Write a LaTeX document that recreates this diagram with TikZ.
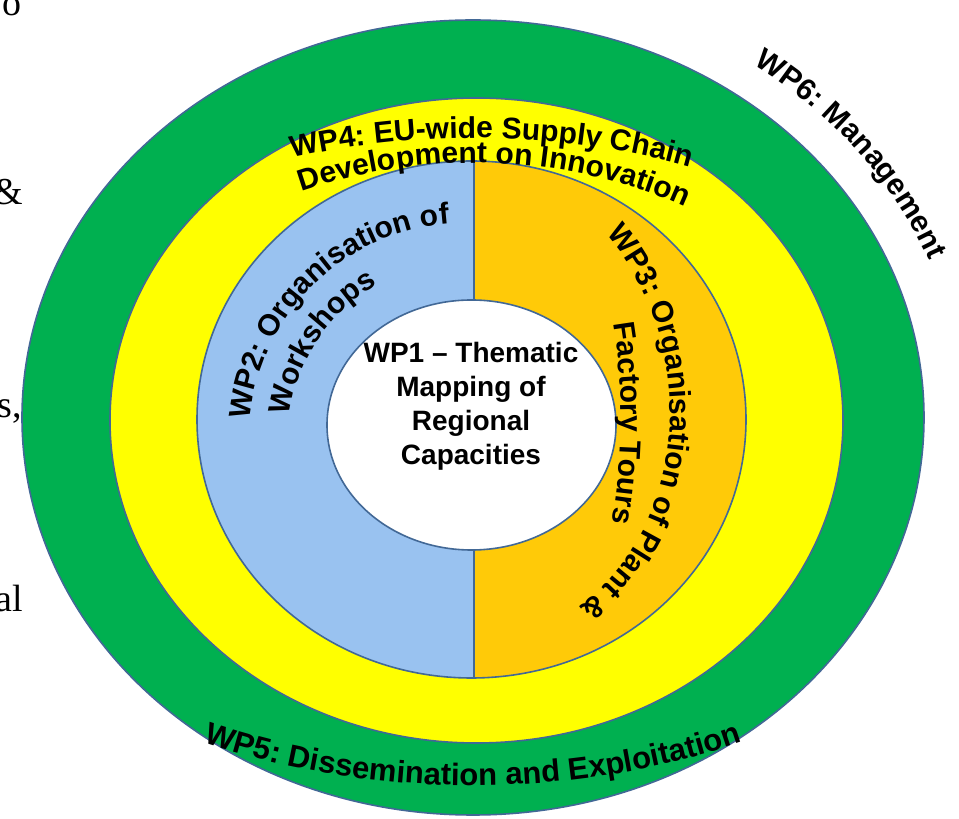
\documentclass[tikz,border=0pt]{standalone}
\usepackage{fontspec}
\setmainfont{Liberation Serif}
\newfontfamily\wparial{Liberation Sans}
\usepackage{tikz}
\usetikzlibrary{decorations.text}

\definecolor{ringgreen}{RGB}{0,176,80}
\definecolor{ringyellow}{RGB}{255,255,0}
\definecolor{ringblue}{RGB}{153,194,240}
\definecolor{ringgold}{RGB}{255,202,8}
\definecolor{rimline}{RGB}{66,104,150}

\begin{document}
\begin{tikzpicture}[x=1pt,y=1pt,
    rim/.style={draw=rimline,line width=1.6pt},
    arctext/.style 2 args={decorate,decoration={text along path,text align=center,
      text={|\wparial\bfseries\fontsize{#1}{#1}\selectfont|#2}}},
    cutword/.style={anchor=base east,inner sep=0pt,font=\fontsize{38}{42}\selectfont}]
  \useasboundingbox (0,0) rectangle (959,819);
  \fill[white] (0,0) rectangle (959,819);
  \coordinate (hub) at (474,399);
  \node[cutword] (cuto) at (22,803) {o};
  \node[cutword] (cutamp) at (23,614) {\&};
  \node[cutword] (cuts) at (22,401) {s,};
  \node[cutword] (cutal) at (23,207) {al};
  \draw[rim,fill=ringgreen] (473,401.5) ellipse [x radius=451,y radius=397.5];
  \draw[rim,fill=ringyellow] (476.5,398.5) ellipse [x radius=366.5,y radius=322.5];
  \fill[ringblue] (471.5,399.5) ellipse [x radius=274.5,y radius=258.5];
  \begin{scope}
    \clip (474,0) rectangle (959,819);
    \fill[ringgold] (471.5,399.5) ellipse [x radius=274.5,y radius=258.5];
  \end{scope}
  \draw[rim] (474,141) -- (474,658);
  \draw[rim] (471.5,399.5) ellipse [x radius=274.5,y radius=258.5];
  \draw[rim,fill=white] (471.5,394) ellipse [x radius=144.5,y radius=125];
  \node[align=center,font=\wparial\bfseries\fontsize{28}{34}\selectfont] (wpone) at (471,413)
    {WP1 – Thematic\\Mapping of\\Regional\\Capacities};
  \begin{scope}[shift=(hub)]
    \path[arctext={30}{WP4: EU-wide Supply Chain}] (137.3:490 and 282)
      arc [start angle=137.3,end angle=37.3,x radius=490,y radius=282];
    \path[arctext={30}{Development on Innovation}] (141:378 and 257)
      arc [start angle=141,end angle=31,x radius=378,y radius=257];
    \path[arctext={30}{Factory Tours}] (59:147 and 300)
      arc [start angle=59,end angle=-61,x radius=147,y radius=300];
  \end{scope}
  \begin{scope}[shift={(474,405)}]
    \path[arctext={30}{WP3: Organisation of Plant {\&}}] (79:196 and 243)
      arc [start angle=79,end angle=0,x radius=196,y radius=243]
      arc [start angle=0,end angle=-90,x radius=196,y radius=229];
  \end{scope}
  \begin{scope}[shift={(465,380)}]
    \path[arctext={30}{WP2: Organisation of}] (204.5:216)
      arc [start angle=204.5,end angle=64.5,radius=216];
    \path[arctext={30}{Workshops}] (216:177)
      arc [start angle=216,end angle=76,radius=177];
  \end{scope}
  \begin{scope}[shift={(473,401.5)}]
    \path[arctext={30}{WP6: Management}] (77:490 and 430)
      arc [start angle=77,end angle=-3,x radius=490,y radius=430];
    \path[arctext={31}{WP5: Dissemination and Exploitation}] (225:570 and 368)
      arc [start angle=225,end angle=315,x radius=570,y radius=368];
  \end{scope}
\end{tikzpicture}
\end{document}
